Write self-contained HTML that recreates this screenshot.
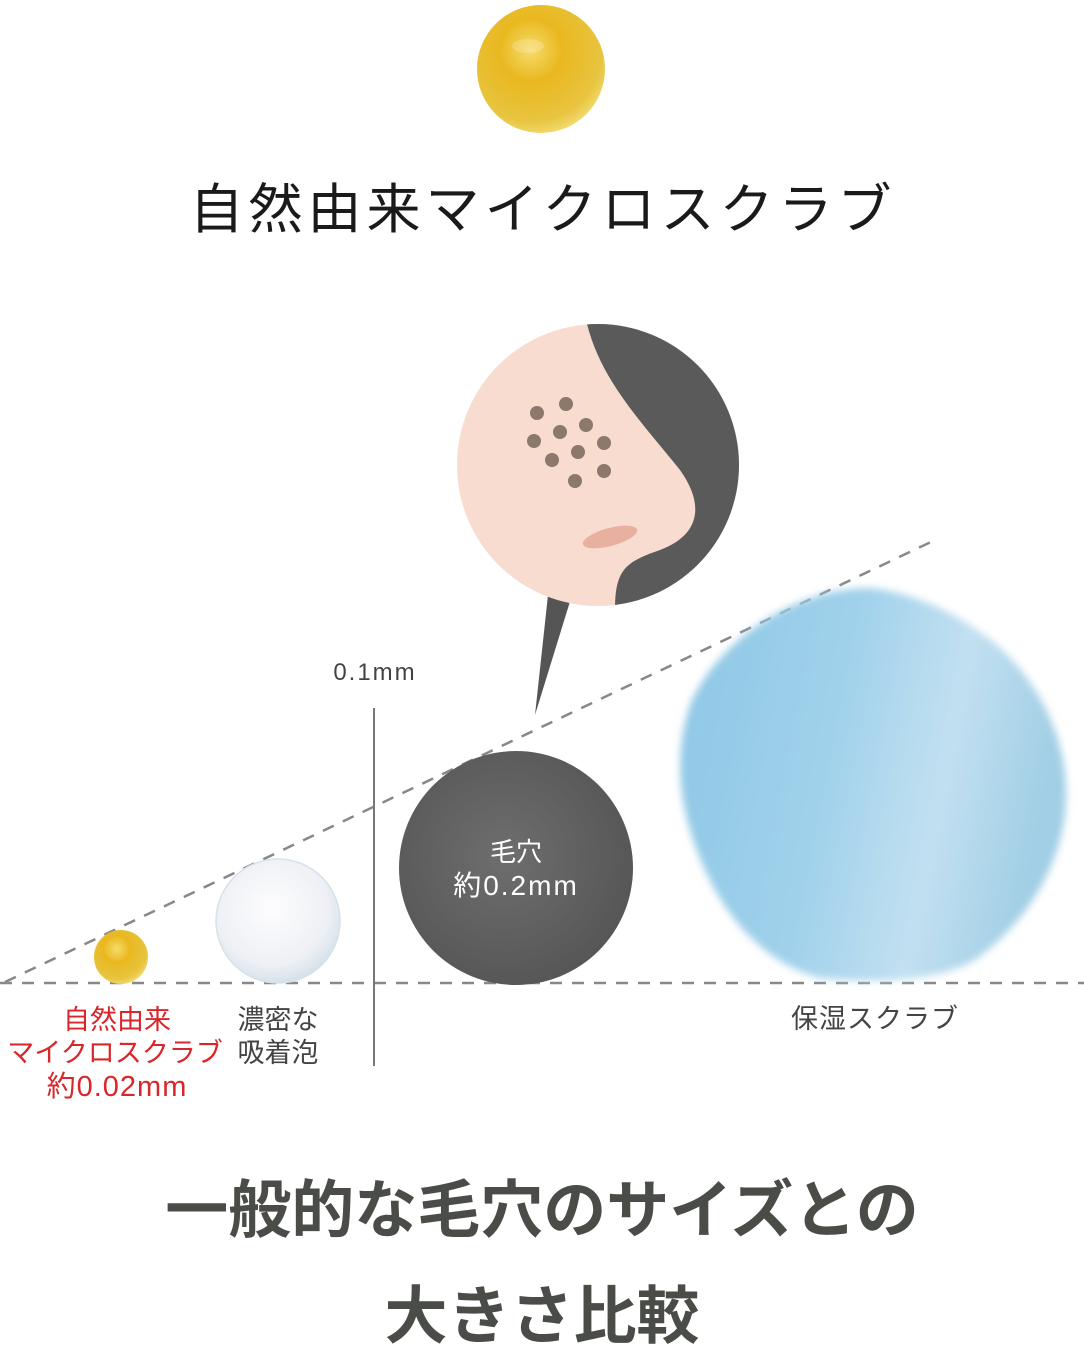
<!DOCTYPE html>
<html><head><meta charset="utf-8"><style>
body{margin:0;background:#fff;}
svg{display:block}
</style></head><body>
<svg width="1084" height="1358" viewBox="0 0 1084 1358" xmlns="http://www.w3.org/2000/svg">
<defs>
<radialGradient id="gold" cx="0.42" cy="0.35" r="0.7">
<stop offset="0" stop-color="#f7dc6a"/><stop offset="0.35" stop-color="#e9b820"/><stop offset="0.8" stop-color="#e8c440"/><stop offset="1" stop-color="#f5e07a"/></radialGradient>
<radialGradient id="bub" cx="0.45" cy="0.4" r="0.65">
<stop offset="0" stop-color="#fdfdfe"/><stop offset="0.7" stop-color="#eef0f5"/><stop offset="1" stop-color="#cfdde8"/></radialGradient>
<radialGradient id="pore" cx="0.45" cy="0.45" r="0.6">
<stop offset="0" stop-color="#6e6e6e"/><stop offset="1" stop-color="#555"/></radialGradient>
<linearGradient id="blue" x1="0" y1="0" x2="1" y2="0.2">
<stop offset="0" stop-color="#8ec7e5"/><stop offset="0.45" stop-color="#a0d1eb"/><stop offset="0.75" stop-color="#c2e0f1"/><stop offset="1" stop-color="#a2cfe5"/></linearGradient>
<filter id="soft"><feGaussianBlur stdDeviation="4"/></filter>
<clipPath id="cc"><circle cx="598" cy="465" r="141"/></clipPath>
</defs>

<circle cx="541" cy="69" r="64" fill="url(#gold)"/>
<ellipse cx="528" cy="46" rx="16" ry="7" fill="#fff" opacity="0.2"/>

<text x="543" y="228" text-anchor="middle" font-family="Liberation Sans, Noto Sans CJK JP, sans-serif" font-size="54" letter-spacing="5" fill="#1a1a1a">自然由来マイクロスクラブ</text>

<line x1="0" y1="983" x2="1084" y2="983" stroke="#888" stroke-width="2.5" stroke-dasharray="12 10"/>
<line x1="5" y1="982" x2="935" y2="540" stroke="#888" stroke-width="2.5" stroke-dasharray="12 10"/>
<line x1="374" y1="708" x2="374" y2="1066" stroke="#777" stroke-width="2"/>
<text x="375" y="680" text-anchor="middle" font-family="Liberation Sans, sans-serif" font-size="24" fill="#444" letter-spacing="2">0.1mm</text>

<polygon points="548,595 572,595 535,715" fill="#555"/>
<circle cx="598" cy="465" r="141" fill="#f8dccf"/>
<g clip-path="url(#cc)">
<path d="M586,320 C600,380 640,420 680,470 C705,505 700,535 660,550 C625,562 615,570 615,610 L760,610 L760,320 Z" fill="#5a5a5a"/>
</g>
<ellipse cx="610" cy="537" rx="28" ry="9" transform="rotate(-15 610 537)" fill="#e8b09e"/>
<g fill="#8c786c">
<circle cx="537" cy="413" r="7"/><circle cx="566" cy="404" r="7"/><circle cx="586" cy="425" r="7"/>
<circle cx="560" cy="432" r="7"/><circle cx="534" cy="441" r="7"/><circle cx="578" cy="452" r="7"/>
<circle cx="552" cy="460" r="7"/><circle cx="604" cy="443" r="7"/><circle cx="604" cy="471" r="7"/>
<circle cx="575" cy="481" r="7"/></g>

<circle cx="121" cy="957" r="27" fill="url(#gold)"/>
<circle cx="278" cy="921" r="62" fill="url(#bub)" stroke="#d6e2ea" stroke-width="1.5"/>
<circle cx="516" cy="868" r="117" fill="url(#pore)"/>
<text x="516" y="861" text-anchor="middle" font-family="Liberation Sans, Noto Sans CJK JP, sans-serif" font-size="26" fill="#fff">毛穴</text>
<text x="516" y="895" text-anchor="middle" font-family="Liberation Sans, Noto Sans CJK JP, sans-serif" font-size="28" fill="#fff" letter-spacing="2">約0.2mm</text>

<path filter="url(#soft)" fill="url(#blue)" d="M870,588 C910,592 960,612 1000,648 C1040,685 1068,740 1066,800 C1064,860 1030,920 975,960 C930,985 860,982 820,978 C770,965 730,925 705,870 C680,815 672,760 690,705 C715,645 790,588 870,588 Z"/>

<g font-family="Liberation Sans, Noto Sans CJK JP, sans-serif" font-size="27">
<text x="117" y="1029" text-anchor="middle" fill="#d9262a">自然由来</text>
<text x="115" y="1062" text-anchor="middle" fill="#d9262a">マイクロスクラブ</text>
<text x="117" y="1096" text-anchor="middle" fill="#d9262a" font-size="29" letter-spacing="1">約0.02mm</text>
<text x="278" y="1029" text-anchor="middle" fill="#444">濃密な</text>
<text x="278" y="1062" text-anchor="middle" fill="#444">吸着泡</text>
<text x="875" y="1028" text-anchor="middle" fill="#444" letter-spacing="1">保湿スクラブ</text>
</g>

<g font-family="Liberation Sans, Noto Sans CJK JP, sans-serif" font-size="63" font-weight="bold" fill="#4a4c47" text-anchor="middle">
<text x="542" y="1232">一般的な毛穴のサイズとの</text>
<text x="542" y="1338">大きさ比較</text>
</g>
</svg>
</body></html>
